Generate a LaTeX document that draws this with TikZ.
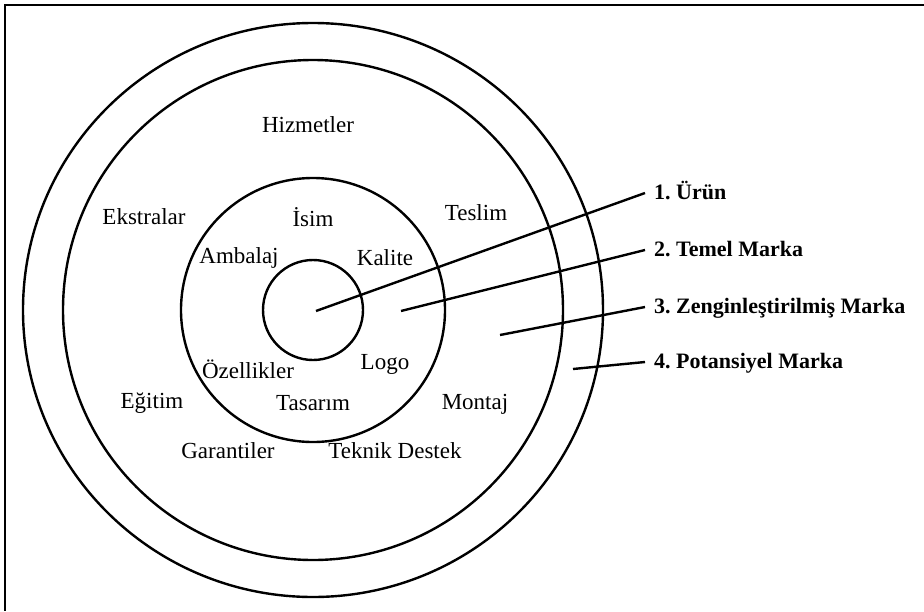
\documentclass[tikz,border=0pt]{standalone}
\usepackage{fontspec}
\setmainfont{Liberation Serif}
\usetikzlibrary{positioning}
\frenchspacing

\begin{document}
\begin{tikzpicture}[x=1pt, y=-1pt,
  ring/.style={draw=black, line width=2.4pt},
  item/.style={font=\fontsize{23}{27}\selectfont, inner sep=0},
  lab/.style={font=\fontsize{22}{26}\selectfont\bfseries, anchor=west,
    inner xsep=9pt, inner ysep=0, text height=16pt, text depth=4pt},
  lead/.style={draw=black, line width=2.4pt}]
\useasboundingbox (0,0) rectangle (924,611);
\draw[line width=2pt] (924,5) -- (5,5) -- (5,611);
% rings round the core
\coordinate (mid) at (313,310);
\foreach \rx/\ry in {50/50, 132/132, 250/250, 290/287}
  \draw[ring] (mid) ellipse [x radius=\rx, y radius=\ry];
% texts in the rings
\node[item] (hizmet) at (308,125) {Hizmetler};
\node[item] (ekstra) at (144,217) {Ekstralar};
\node[item] (isim)   at (313,217) {İsim};
\node[item] (teslim) at (476,213) {Teslim};
\node[item] (ambal)  at (239,258) {Ambalaj};
\node[item] (kalite) at (385,258) {Kalite};
\node[item] (ozell)  at (248,369) {Özellikler};
\node[item] (logo)   at (385,364) {Logo};
\node[item] (tasar)  at (313,403) {Tasarım};
\node[item] (egitim) at (152,403) {Eğitim};
\node[item] (montaj) at (475,404) {Montaj};
\node[item] (garant) at (228,451) {Garantiler};
\node[item] (teknik) at (395,451) {Teknik Destek};
% leader lines to the level names
\foreach \sx/\sy/\ly/\txt [count=\i] in {316/311/193/1. Ürün,
    401/311/250/2. Temel Marka,
    500/335/307/3. Zenginleştirilmiş Marka,
    573/369/362/4. Potansiyel Marka} {
  \coordinate (s\i) at (\sx,\sy);
  \node[lab] (l\i) at (645,\ly) {\txt};
  \draw[lead] (s\i) -- (l\i.west);
}
\end{tikzpicture}
\end{document}
